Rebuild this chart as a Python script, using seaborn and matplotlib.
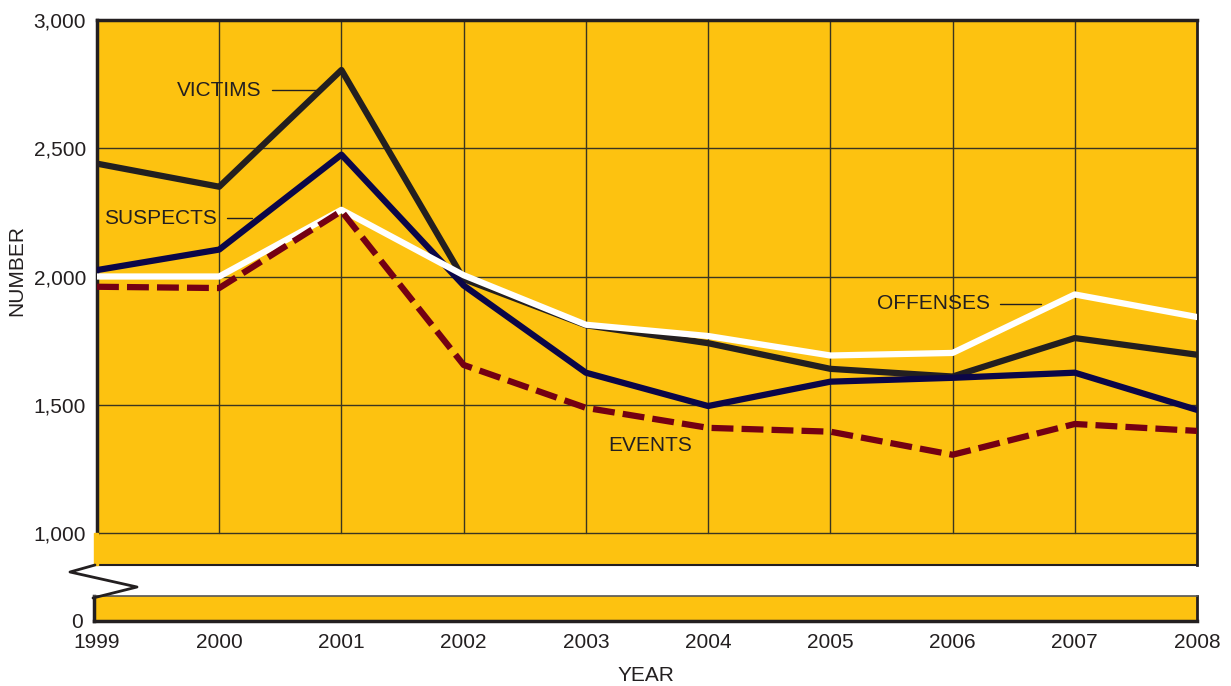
import numpy as np
import pandas as pd
import matplotlib
matplotlib.use('Agg')
import matplotlib.pyplot as plt
import seaborn as sns
from matplotlib.lines import Line2D

years = [1999, 2000, 2001, 2002, 2003, 2004, 2005, 2006, 2007, 2008]
victims = [2440, 2350, 2805, 1990, 1810, 1740, 1640, 1610, 1760, 1695]
suspects = [2025, 2105, 2475, 1965, 1625, 1495, 1590, 1605, 1625, 1480]
offenses = [2000, 2000, 2260, 2005, 1812, 1768, 1692, 1702, 1930, 1842]
events = [1960, 1955, 2255, 1655, 1488, 1410, 1395, 1305, 1425, 1398]
y_ticks = [1000, 1500, 2000, 2500, 3000]

sns.set_theme(style='white')
plt.rcParams['font.family'] = ['Liberation Sans', 'DejaVu Sans']

W, H = 1231, 686
fs = 15
fig = plt.figure(figsize=(W / 100, H / 100), dpi=100)

yellow = '#fdc210'
dark = '#231f20'
grid_c = '#3a3520'

# main panel
ax = fig.add_axes([97 / W, 1 - 565 / H, 1100 / W, 545 / H])
ax.set_facecolor(yellow)
ax.set_xlim(1999, 2008)
ax.set_ylim(3000 - 545 * 2000 / 513, 3000)

for yv in y_ticks[:-1]:
    ax.axhline(yv, color=grid_c, lw=1, zorder=1)
for xv in years[1:-1]:
    ax.plot([xv, xv], [1000, 3000], color=grid_c, lw=1, zorder=1)

df = pd.DataFrame({'year': years, 'VICTIMS': victims, 'SUSPECTS': suspects,
                   'OFFENSES': offenses, 'EVENTS': events})
sns.lineplot(data=df, x='year', y='VICTIMS', color=dark, lw=4.5, ax=ax, zorder=3)
sns.lineplot(data=df, x='year', y='SUSPECTS', color='#0b0648', lw=4.5, ax=ax, zorder=4)
sns.lineplot(data=df, x='year', y='OFFENSES', color='white', lw=4.5, ax=ax, zorder=5)
sns.lineplot(data=df, x='year', y='EVENTS', color='#740013', lw=4.5, ax=ax, zorder=6,
             dashes=False, linestyle=(0, (3.5, 1.3)))

for s in ['top', 'left', 'right']:
    ax.spines[s].set_color(dark)
    ax.spines[s].set_linewidth(2.5)
ax.spines['bottom'].set_color(dark)
ax.spines['bottom'].set_linewidth(1.5)
ax.spines['left'].set_bounds(1000, 3000)
ax.spines['right'].set_linewidth(2)

ax.set_yticks(y_ticks)
ax.set_yticklabels([f'{v:,}' for v in y_ticks])
ax.set_xticks([])
ax.tick_params(axis='y', length=0, pad=8, labelsize=fs, labelcolor=dark)
ax.set_xlabel('')
ax.set_ylabel('')

# series labels
lab = dict(fontsize=fs, color=dark, va='center')
ax.text(2000.0, 2727, 'VICTIMS', ha='center', **lab)
ax.plot([2000.43, 2000.81], [2727, 2727], color=dark, lw=1)
ax.text(1999.52, 2228, 'SUSPECTS', ha='center', **lab)
ax.plot([2000.06, 2000.27], [2228, 2228], color=dark, lw=1)
ax.text(2005.84, 1893, 'OFFENSES', ha='center', **lab)
ax.plot([2006.39, 2006.72], [1893, 1893], color=dark, lw=1)
ax.text(2003.53, 1343, 'EVENTS', ha='center', **lab)

# lower strip for zero
ax2 = fig.add_axes([94 / W, 1 - 621 / H, 1103 / W, 25 / H])
ax2.set_facecolor(yellow)
ax2.set_xlim(1999 - 3 * 9 / 1100, 2008)
ax2.set_ylim(0, 100)
ax2.set_yticks([0])
ax2.set_yticklabels(['0'])
ax2.set_xticks(years)
ax2.set_xticklabels([str(y) for y in years])
ax2.tick_params(length=0, labelsize=fs, labelcolor=dark)
ax2.tick_params(axis='y', pad=8)
ax2.tick_params(axis='x', pad=9)
for s in ['top', 'right']:
    ax2.spines[s].set_color('#555555')
    ax2.spines[s].set_linewidth(1.2)
ax2.spines['bottom'].set_color(dark)
ax2.spines['bottom'].set_linewidth(2.5)
ax2.spines['left'].set_color(dark)
ax2.spines['left'].set_linewidth(2.5)
ax2.spines['right'].set_color(dark)
ax2.spines['right'].set_linewidth(2)
ax2.set_xlabel('YEAR', fontsize=fs, color=dark, labelpad=10)

# yellow extension below 1000 on the left
fig.patches.append(plt.Rectangle((94 / W, 1 - 565 / H), 4 / W, 32 / H,
                                 transform=fig.transFigure, color=yellow, zorder=0))

# break mark
bx = np.array([95, 70, 137, 93]) / W
by = 1 - np.array([565, 572, 587, 598]) / H
fig.add_artist(Line2D(bx, by, color=dark, lw=2, transform=fig.transFigure))

fig.text(17 / W, 1 - 270 / H, 'NUMBER', rotation=90, ha='center', va='center',
         fontsize=fs, color=dark)

fig.savefig('out.png', dpi=100)
